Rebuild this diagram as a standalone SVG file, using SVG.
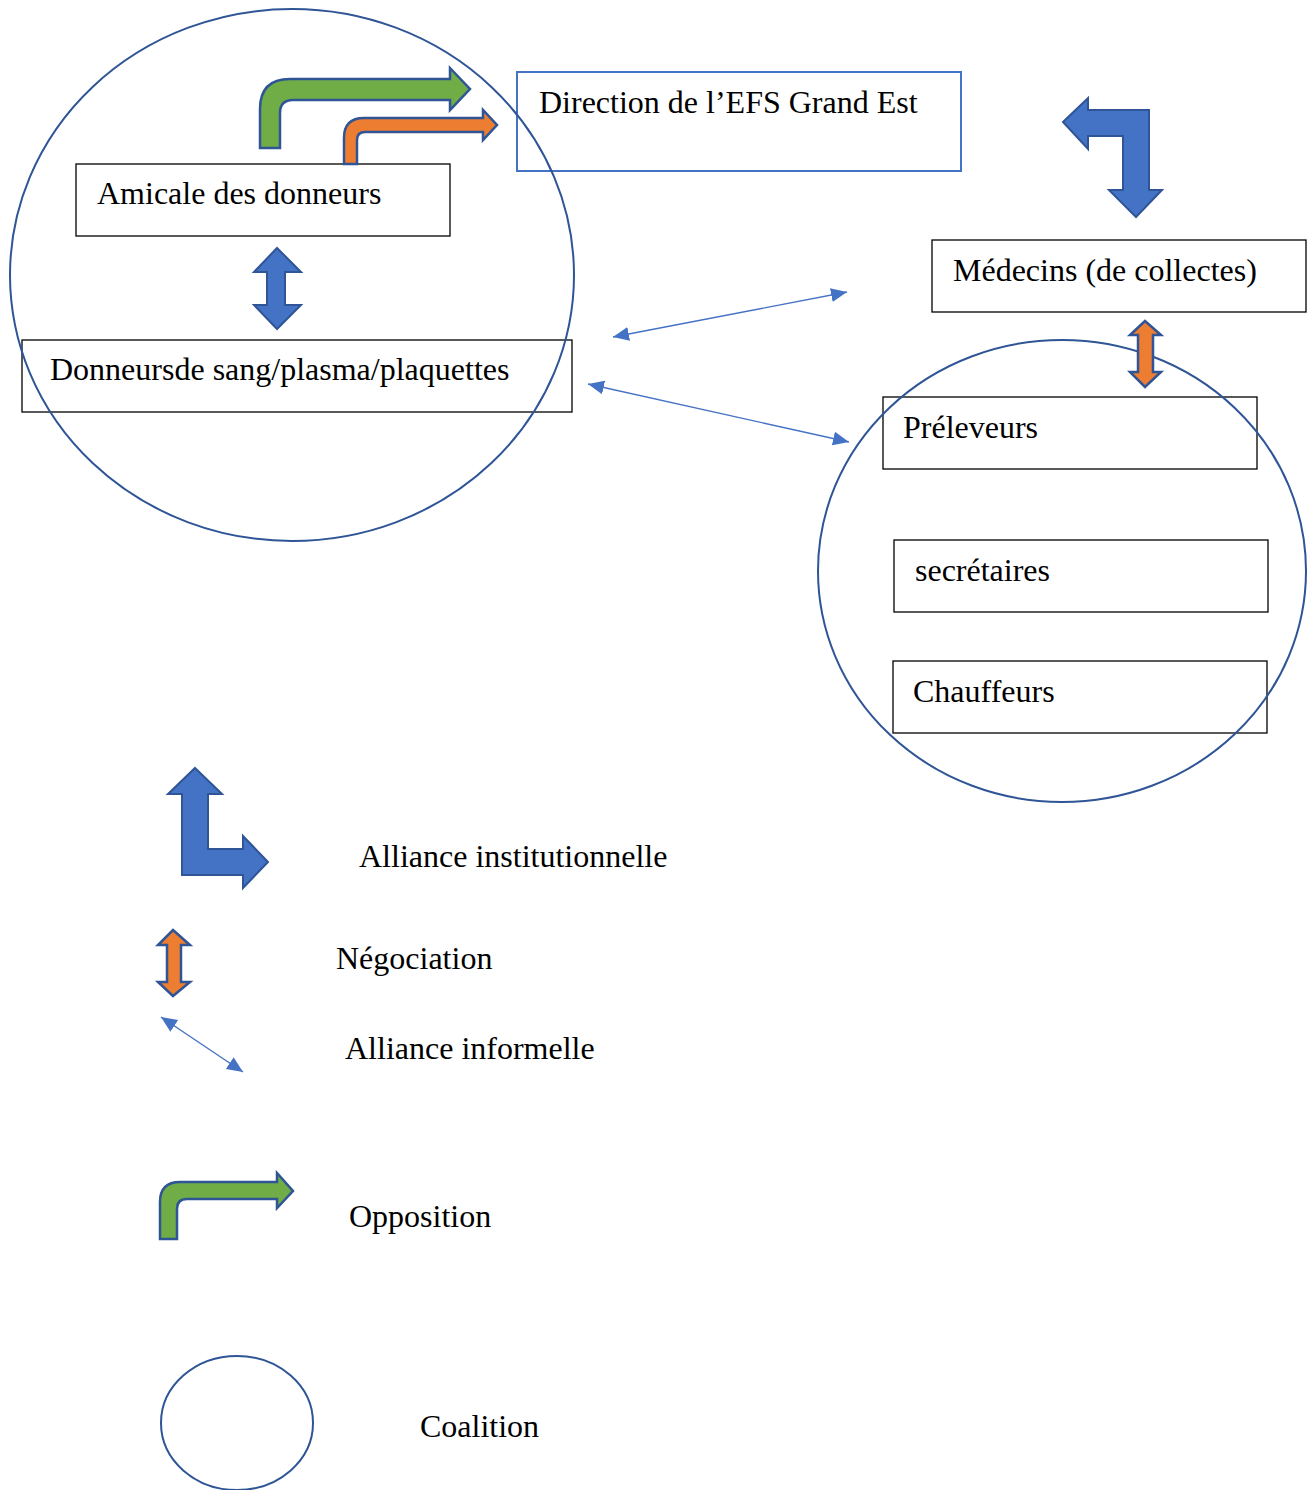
<svg xmlns="http://www.w3.org/2000/svg" width="1309" height="1490" viewBox="0 0 1309 1490">
<style>
text{font-family:"Liberation Serif","Times New Roman",serif;font-size:32px;fill:#000}
.box{fill:none;stroke:#000;stroke-width:1.3}
.boxb{fill:none;stroke:#4472C4;stroke-width:2}
.coal{fill:none;stroke:#2F5597;stroke-width:2}
.blue{fill:#4472C4;stroke:#2F5597;stroke-width:2;stroke-linejoin:miter}
.green{fill:#70AD47;stroke:#2F5597;stroke-width:2.5}
.orange{fill:#ED7D31;stroke:#2F5597;stroke-width:2.5}
.thin{stroke:#4472C4;stroke-width:1.4;fill:none;marker-start:url(#ah);marker-end:url(#ah)}
</style>
<defs>
<marker id="ah" markerUnits="userSpaceOnUse" markerWidth="18" markerHeight="16" refX="16" refY="7" orient="auto-start-reverse" viewBox="0 0 18 16">
<path d="M0,0 L16,7 L0,14 Z" fill="#4472C4"/>
</marker>
</defs>
<rect width="1309" height="1490" fill="#fff"/>
<g id="direction"><rect class="boxb" x="517" y="72" width="444" height="99"/><text x="539" y="113">Direction de l’EFS Grand Est</text></g>
<g id="amicale"><rect class="box" x="76" y="164" width="374" height="72"/><text x="97" y="204">Amicale des donneurs</text></g>
<g id="donneurs"><rect class="box" x="22" y="340" width="550" height="72"/><text x="50" y="380">Donneursde sang/plasma/plaquettes</text></g>
<g id="medecins"><rect class="box" x="932" y="240" width="374" height="72"/><text x="953" y="281">Médecins (de collectes)</text></g>
<g id="preleveurs"><rect class="box" x="883" y="397" width="374" height="72"/><text x="903" y="438">Préleveurs</text></g>
<g id="secretaires"><rect class="box" x="894" y="540" width="374" height="72"/><text x="915" y="581">secrétaires</text></g>
<g id="chauffeurs"><rect class="box" x="893" y="661" width="374" height="72"/><text x="913" y="702">Chauffeurs</text></g>
<g id="coalition-left"><ellipse class="coal" cx="292" cy="275" rx="282" ry="266"/></g>
<g id="coalition-right"><ellipse class="coal" cx="1062" cy="571" rx="244" ry="231"/></g>
<g id="connectors">
<path class="green" d="M260,148 L260,109 Q260,79 290,79 L450,79 L450,68 L470,89 L450,110 L450,100 L293,100 Q280,100 280,113 L280,148 Z"/>
<path class="orange" d="M344,164 L344,138 Q344,118 364,118 L483,118 L483,110 L497,125 L483,140 L483,132 L365,132 Q357,132 357,140 L357,164 Z"/>
<path class="blue" d="M1063,122 L1088,98 L1088,110 L1149,110 L1149,190 L1162,190 L1136,217 L1109,190 L1123,190 L1123,136 L1088,136 L1088,149 Z"/>
<path class="blue" d="M277,248 L301,272 L285,272 L285,305 L301,305 L277,329 L254,305 L267,305 L267,272 L254,272 Z"/>
<path class="orange" d="M1145,321 L1161,335 L1153,335 L1153,372 L1161,372 L1145,387 L1130,372 L1138,372 L1138,335 L1130,335 Z"/>
<line class="thin" x1="613" y1="337" x2="847" y2="292"/>
<line class="thin" x1="588" y1="384" x2="849" y2="442"/>
</g>
<g id="legend">
<path class="blue" d="M195,768 L222,794 L208,794 L208,849 L243,849 L243,836 L268,862 L243,888 L243,875 L182,875 L182,794 L168,794 Z"/>
<text x="359" y="867">Alliance institutionnelle</text>
<path class="orange" d="M173,930 L190,945 L181,945 L181,982 L190,982 L173,996 L158,982 L167,982 L167,945 L158,945 Z"/>
<text x="336" y="969">Négociation</text>
<line class="thin" x1="161" y1="1017" x2="243" y2="1072"/>
<text x="345" y="1059">Alliance informelle</text>
<path class="green" d="M160,1239 L160,1202 Q160,1182 180,1182 L277,1182 L277,1173 L293,1191 L277,1208 L277,1199 L187,1199 Q177,1199 177,1209 L177,1239 Z"/>
<text x="349" y="1227">Opposition</text>
<ellipse class="coal" cx="237" cy="1423" rx="76" ry="67"/>
<text x="420" y="1437">Coalition</text>
</g>
</svg>
